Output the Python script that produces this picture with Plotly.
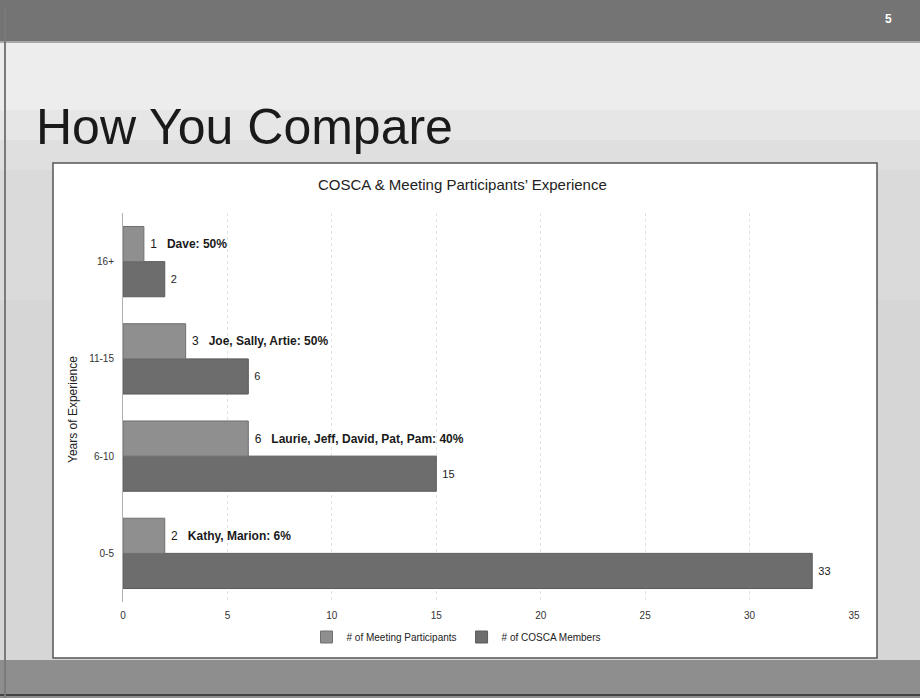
import plotly.graph_objects as go

# ---- data ----
categories = ["0-5", "6-10", "11-15", "16+"]
participants = [2, 6, 3, 1]
cosca_members = [33, 15, 6, 2]
participant_notes = ["Kathy, Marion: 6%", "Laurie, Jeff, David, Pat, Pam: 40%",
                     "Joe, Sally, Artie: 50%", "Dave: 50%"]
x_ticks = [0, 5, 10, 15, 20, 25, 30, 35]

W, H = 920, 698
ML, MR, MT, MB = 123, 66, 213, 96
PW, PH = W - ML - MR, H - MT - MB


def px(x):
    return (x - ML) / PW


def py(y):
    return (H - MB - y) / PH


FONT = "Liberation Sans, Arial, sans-serif"

fig = go.Figure()

fig.add_trace(go.Bar(
    y=categories, x=cosca_members, orientation="h",
    name="# of COSCA Members",
    marker=dict(color="#6d6d6d", line=dict(color="#5a5a5a", width=1)),
    text=["\u00a0" + str(v) for v in cosca_members],
    textposition="outside", cliponaxis=False,
    textfont=dict(size=11, color="#222222", family=FONT),
    hoverinfo="x+y",
))

fig.add_trace(go.Bar(
    y=categories, x=participants, orientation="h",
    name="# of Meeting Participants",
    marker=dict(color="#8f8f8f", line=dict(color="#707070", width=1)),
    text=["\u00a0" + str(v) + "\u00a0\u00a0\u00a0<b>" + n + "</b>"
          for v, n in zip(participants, participant_notes)],
    textposition="outside", cliponaxis=False,
    textfont=dict(size=12, color="#1a1a1a", family=FONT),
    hoverinfo="x+y",
))

# soft vertical gradient of the slide background (light at top, greyer lower down)
bg_steps = [(42, 110, "#ededed"), (110, 140, "#e6e6e6"), (140, 170, "#dfdfdf"),
            (170, 300, "#dadada")]
shapes = []
for y0, y1, c in bg_steps:
    shapes.append(dict(type="rect", xref="paper", yref="paper", x0=px(0), x1=px(W),
                       y0=py(y1), y1=py(y0), fillcolor=c, line=dict(width=0), layer="below"))

shapes += [
    # top dark band
    dict(type="rect", xref="paper", yref="paper", x0=px(0), x1=px(W), y0=py(42), y1=py(0),
         fillcolor="#747474", line=dict(width=0), layer="below"),
    dict(type="line", xref="paper", yref="paper", x0=px(0), x1=px(W), y0=py(42), y1=py(42),
         line=dict(color="#a8a8a8", width=2), layer="below"),
    # bottom band
    dict(type="rect", xref="paper", yref="paper", x0=px(0), x1=px(W), y0=py(H), y1=py(660),
         fillcolor="#8e8e8e", line=dict(width=0), layer="below"),
    dict(type="line", xref="paper", yref="paper", x0=px(0), x1=px(W), y0=py(695), y1=py(695),
         line=dict(color="#444444", width=2), layer="below"),
    # left dark edge
    dict(type="line", xref="paper", yref="paper", x0=px(5), x1=px(5), y0=py(H), y1=py(8),
         line=dict(color="#7a7a7a", width=2), layer="below"),
    # white chart box
    dict(type="rect", xref="paper", yref="paper", x0=px(53), x1=px(877), y0=py(658), y1=py(163),
         fillcolor="white", line=dict(color="#555555", width=1.5), layer="below"),
]

annotations = [
    dict(text="How You Compare", xref="paper", yref="paper", x=px(34), y=py(127),
         xanchor="left", yanchor="middle", showarrow=False,
         font=dict(size=50, color="#1a1a1a", family=FONT)),
    dict(text="<b>5</b>", xref="paper", yref="paper", x=px(888), y=py(19),
         xanchor="center", yanchor="middle", showarrow=False,
         font=dict(size=12, color="white", family=FONT)),
    dict(text="COSCA & Meeting Participants\u2019 Experience", xref="paper", yref="paper",
         x=px(462), y=py(185), xanchor="center", yanchor="middle", showarrow=False,
         font=dict(size=15, color="#222222", family=FONT)),
    dict(text="Years of Experience", xref="paper", yref="paper", x=px(73), y=py(410),
         xanchor="center", yanchor="middle", textangle=-90, showarrow=False,
         font=dict(size=12, color="#222222", family=FONT)),
]

fig.update_layout(
    width=W, height=H,
    margin=dict(l=ML, r=MR, t=MT, b=MB),
    paper_bgcolor="#d6d6d6",
    plot_bgcolor="white",
    barmode="group", bargap=0.277, bargroupgap=0,
    showlegend=True,
    legend=dict(orientation="h", x=px(456), y=py(637), xanchor="center", yanchor="middle",
                traceorder="reversed", bgcolor="rgba(0,0,0,0)",
                font=dict(size=10, color="#222222", family=FONT),
                itemwidth=30),
    shapes=shapes,
    annotations=annotations,
    font=dict(family=FONT, color="#222222"),
    xaxis=dict(range=[0, 35], tickvals=x_ticks, ticktext=[str(t) for t in x_ticks],
               showgrid=True, gridcolor="#e2e2e2", griddash="dot", zeroline=False,
               showline=False, ticks="", tickfont=dict(size=10, color="#333333"),
               ticklabelstandoff=6),
    yaxis=dict(categoryorder="array", categoryarray=categories,
               showline=True, linecolor="#b0b0b0", linewidth=1,
               ticks="", showgrid=False, tickfont=dict(size=10, color="#333333"),
               ticklabelstandoff=6),
)

fig.write_html("out.html")
